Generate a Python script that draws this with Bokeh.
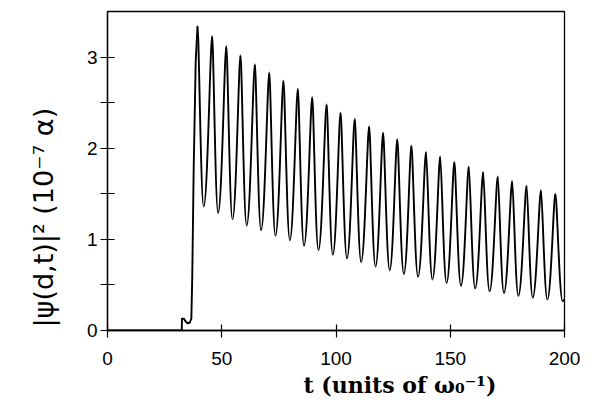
import numpy as np
from bokeh.plotting import figure
from bokeh.models import Range1d, FixedTicker, Title, ColumnDataSource
from bokeh.embed import file_html
from bokeh.resources import INLINE

# ---- data ----
# onset region (before the first maximum)
pre_t = [0.0, 32.5, 32.6, 33.4, 34.2, 35.0, 36.0, 36.7, 37.1, 37.7, 38.6, 39.4]
pre_y = [0.0, 0.0, 0.13, 0.13, 0.10, 0.08, 0.085, 0.13, 0.60, 1.75, 2.95, 3.34]

# maxima of the oscillation
peak_t = [39.4, 45.8, 52.0, 58.2, 64.5, 70.8, 77.0, 83.3, 89.6, 95.9, 102.0, 108.2,
          114.5, 120.6, 126.8, 133.0, 139.4, 145.6, 151.8, 158.1, 164.4, 170.8,
          177.1, 183.4, 189.7, 196.0]
peak_y = [3.34, 3.23, 3.12, 3.02, 2.92, 2.83, 2.74, 2.65, 2.56, 2.48, 2.39, 2.32,
          2.24, 2.17, 2.10, 2.03, 1.96, 1.91, 1.85, 1.80, 1.74, 1.69, 1.64, 1.59,
          1.54, 1.50]

# minima of the oscillation
trough_t = [42.1, 48.4, 54.7, 60.9, 67.2, 73.5, 79.8, 86.0, 92.3, 98.6, 104.8, 111.0,
            117.3, 123.5, 129.7, 135.9, 142.2, 148.4, 154.7, 160.9, 167.2, 173.5,
            179.8, 186.1, 192.5, 199.2]
trough_y = [1.36, 1.29, 1.22, 1.15, 1.10, 1.04, 0.99, 0.93, 0.88, 0.83, 0.79, 0.75,
            0.70, 0.66, 0.62, 0.59, 0.56, 0.52, 0.49, 0.46, 0.43, 0.41, 0.38, 0.36,
            0.34, 0.32]

end_t = [199.2, 200.0]
end_y = [0.32, 0.34]

x_ticks = [0, 50, 100, 150, 200]
y_ticks = [0, 1, 2, 3]
y_minor = [0.5, 1.5, 2.5]

# ---- figure ----
p = figure(width=585, height=401, x_range=Range1d(0, 200), y_range=Range1d(0, 3.5),
           output_backend="svg", toolbar_location=None, title=None,
           min_border_left=107, min_border_right=21, min_border_top=11,
           min_border_bottom=71)
p.xgrid.visible = False
p.ygrid.visible = False
p.background_fill_color = "white"
p.border_fill_color = "white"
p.outline_line_color = "black"
p.outline_line_width = 1.3

# onset
p.line(pre_t, pre_y, line_color="black", line_width=1.9, line_join="round")

# oscillation: smooth segments between successive extrema
ext_t = []
ext_y = []
ext_kind = []
for a, b, c, d in zip(peak_t, peak_y, trough_t, trough_y):
    ext_t += [a, c]
    ext_y += [b, d]
    ext_kind += ["peak", "trough"]
ext_t = np.array(ext_t)
ext_y = np.array(ext_y)
k = {"peak": 0.22, "trough": 0.45}
x0 = ext_t[:-1]; x1 = ext_t[1:]
y0 = ext_y[:-1]; y1 = ext_y[1:]
k0 = np.array([k[s] for s in ext_kind[:-1]])
k1 = np.array([k[s] for s in ext_kind[1:]])
src = ColumnDataSource(dict(x0=x0, y0=y0, x1=x1, y1=y1,
                            cx0=x0 + k0 * (x1 - x0), cy0=y0,
                            cx1=x1 - k1 * (x1 - x0), cy1=y1))
p.bezier(x0="x0", y0="y0", x1="x1", y1="y1", cx0="cx0", cy0="cy0",
         cx1="cx1", cy1="cy1", source=src, line_color="black", line_width=1.9)
p.line(end_t, end_y, line_color="black", line_width=1.9)

# axes
for ax in (p.xaxis[0], p.yaxis[0]):
    ax.axis_line_color = "black"
    ax.axis_line_width = 1.3
    ax.major_tick_line_color = "black"
    ax.major_tick_line_width = 1.2
    ax.minor_tick_line_color = "black"
    ax.minor_tick_line_width = 1.2
    ax.major_label_text_font = "Liberation Sans"
    ax.major_label_text_font_size = "19px"
    ax.major_label_text_color = "black"

p.xaxis.ticker = FixedTicker(ticks=x_ticks, minor_ticks=[])
p.xaxis.major_tick_in = 6
p.xaxis.major_tick_out = 7
p.xaxis.major_label_standoff = 14

p.yaxis.ticker = FixedTicker(ticks=y_ticks, minor_ticks=y_minor)
p.yaxis.major_tick_in = 7
p.yaxis.major_tick_out = 7
p.yaxis.minor_tick_in = 7
p.yaxis.minor_tick_out = 7
p.yaxis.major_label_standoff = 3

# axis titles
p.add_layout(Title(text="t (units of ω₀⁻¹)", align="left", offset=196,
                   text_font="DejaVu Serif", text_font_style="bold",
                   text_font_size="22px", text_color="black", standoff=4), "below")
p.add_layout(Title(text="|ψ(d,t)|²  (10⁻⁷ α)", align="left", offset=3,
                   text_font="DejaVu Sans", text_font_style="normal",
                   text_font_size="27px", text_color="black", standoff=49), "left")

open("out.html", "w").write(file_html(p, INLINE))
